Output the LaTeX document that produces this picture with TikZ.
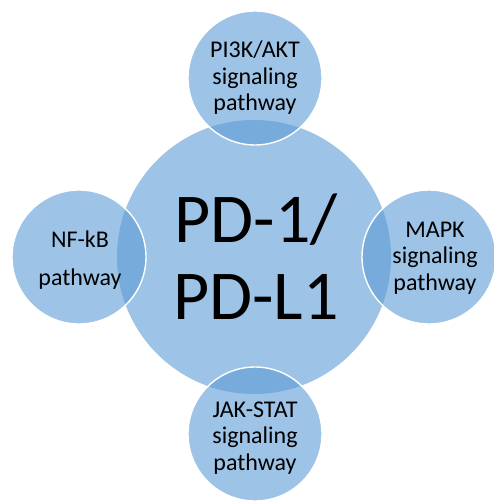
\documentclass[tikz,border=0pt]{standalone}
\usepackage{fontspec}
\setmainfont{Carlito}
\definecolor{centerfill}{RGB}{157,195,230}
\definecolor{satfill}{RGB}{92,155,213}
\begin{document}
\begin{tikzpicture}[x=1pt,y=-1pt,
  hub/.style={circle,fill=centerfill,draw=none,minimum size=274pt,inner sep=0pt},
  sat/.style={circle,fill=satfill,fill opacity=0.6,draw=white,line width=1.4pt,minimum size=134pt,inner sep=0pt},
  sattext/.style={align=center,inner sep=0pt,text=black,font=\fontsize{24}{26.5}\selectfont},
  hubtext/.style={align=center,inner sep=0pt,text=black,font=\fontsize{70}{77}\selectfont}]
\useasboundingbox (0,0) rectangle (493,502);
\node[hub] (c) at (254,257) {};
\node[sat] (t) at (255,78) {};
\node[sat] (l) at (79,257) {};
\node[sat] (r) at (429,257) {};
\node[sat] (b) at (255,434) {};
\node[hubtext] (ct) at (256,257) {PD-1/\\PD-L1};
\node[sattext] (tt) at (255,78) {PI3K/AKT\\signaling\\pathway};
\node[sattext,font=\fontsize{24}{38}\selectfont] (lt) at (80,260) {NF-kB\\pathway};
\node[sattext] (rt) at (435,258) {MAPK\\signaling\\pathway};
\node[sattext] (bt) at (255,438) {JAK-STAT\\signaling\\pathway};
\end{tikzpicture}
\end{document}
